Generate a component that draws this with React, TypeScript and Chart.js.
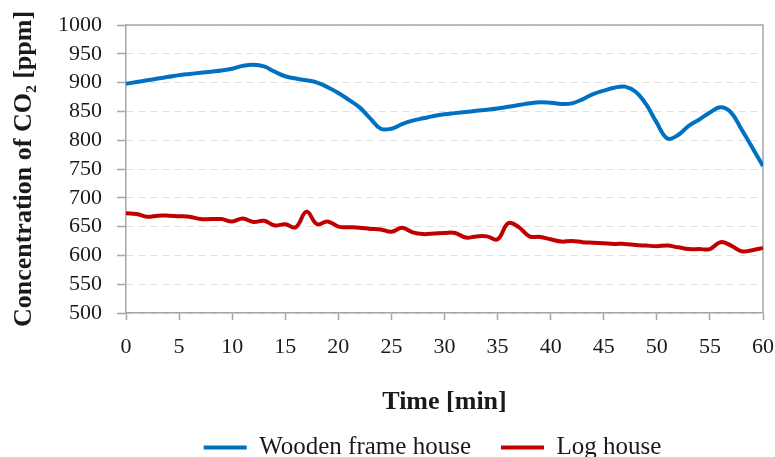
import React, { useEffect, useRef } from "react";
import { Chart, registerables } from "chart.js";

Chart.register(...registerables);

// Time axis, one reading per minute
const minutes = [
  0, 1, 2, 3, 4, 5, 6, 7, 8, 9, 10, 11, 12, 13, 14, 15, 16, 17, 18, 19, 20,
  21, 22, 23, 24, 25, 26, 27, 28, 29, 30, 31, 32, 33, 34, 35, 36, 37, 38, 39, 40,
  41, 42, 43, 44, 45, 46, 47, 48, 49, 50, 51, 52, 53, 54, 55, 56, 57, 58, 59, 60,
];

// CO2 concentration [ppm]
const woodenFrameHouse = [
  898, 901, 904, 907, 910, 913, 915, 917, 919, 921, 924, 929, 931, 928, 919, 911,
  907, 904, 900, 892, 882, 870, 857, 838, 820, 820, 828, 834, 838, 842, 845, 847,
  849, 851, 853, 855, 858, 861, 864, 866, 865, 863, 864, 871, 880, 886, 891, 893,
  884, 862, 830, 803, 809, 825, 836, 848, 857, 848, 818, 787, 755,
];

const logHouse = [
  673, 672, 667, 669, 669, 668, 667, 663, 663, 663, 659, 664, 658, 660, 652, 654,
  649, 676, 654, 659, 650, 649, 648, 646, 645, 641, 648, 640, 637, 638, 639, 639,
  631, 633, 633, 628, 656, 649, 633, 632, 628, 624, 625, 623, 622, 621, 620, 620,
  618, 617, 616, 617, 614, 611, 611, 611, 623, 617, 607, 609, 613,
];

const seriesNames = ["Wooden frame house", "Log house"];
const yTitle = "Concentration of CO\u2082 [ppm]";
const xTitle = "Time [min]";

const FONT = "'Liberation Serif', 'Times New Roman', serif";
const AXIS_GRAY = "#a6a6a6";
const TEXT = "#1a1a1a";

// Solid frame on the top and right edges of the plot area
const frameEdges = {
  id: "frameEdges",
  beforeDatasetsDraw(chart: any) {
    const { ctx, chartArea } = chart;
    ctx.save();
    ctx.strokeStyle = AXIS_GRAY;
    ctx.lineWidth = 1.5;
    ctx.setLineDash([]);
    ctx.beginPath();
    ctx.moveTo(chartArea.left, chartArea.top);
    ctx.lineTo(chartArea.right, chartArea.top);
    ctx.lineTo(chartArea.right, chartArea.bottom);
    ctx.stroke();
    ctx.restore();
  },
};

// Nudge the legend row a little to the left of the plot centre
const legendShift = {
  id: "legendShift",
  afterLayout(chart: any) {
    const legend = chart.legend;
    if (!legend) return;
    legend.left -= 12;
    legend.right -= 12;
  },
};

export default function App() {
  const canvasRef = useRef<HTMLCanvasElement | null>(null);

  useEffect(() => {
    if (!canvasRef.current) return;
    const chart = new Chart(canvasRef.current, {
      type: "line",
      data: {
        datasets: [
          {
            label: seriesNames[0],
            data: minutes.map((m, i) => ({ x: m, y: woodenFrameHouse[i] })),
            borderColor: "#0070c0",
            backgroundColor: "#0070c0",
            borderWidth: 4,
            pointRadius: 0,
            tension: 0.4,
          },
          {
            label: seriesNames[1],
            data: minutes.map((m, i) => ({ x: m, y: logHouse[i] })),
            borderColor: "#c00000",
            backgroundColor: "#c00000",
            borderWidth: 4,
            pointRadius: 0,
            tension: 0.4,
          },
        ],
      },
      options: {
        animation: false,
        responsive: true,
        maintainAspectRatio: false,
        layout: { padding: { left: 0, top: 25, right: 12, bottom: 0 } },
        plugins: {
          tooltip: { enabled: false },
          legend: {
            position: "bottom",
            fullSize: false,
            labels: {
              usePointStyle: true,
              pointStyle: "line",
              pointStyleWidth: 43,
              padding: 30,
              color: TEXT,
              font: { family: FONT, size: 25 },
            },
          },
        },
        scales: {
          x: {
            type: "linear",
            min: 0,
            max: 60,
            ticks: {
              stepSize: 5,
              autoSkip: false,
              color: TEXT,
              padding: 14,
              font: { family: FONT, size: 22 },
              callback: (v: any) => String(v),
            },
            grid: {
              drawOnChartArea: false,
              drawTicks: true,
              tickLength: 7,
              tickColor: AXIS_GRAY,
              tickWidth: 1.5,
            },
            border: { color: AXIS_GRAY, width: 1.5 },
            title: {
              display: true,
              text: xTitle,
              color: TEXT,
              font: { family: FONT, size: 26, weight: "bold" },
              padding: { top: 0, bottom: -13 },
            },
            afterFit(scale: any) {
              scale.height = 92;
              scale.paddingLeft = 0;
              scale.paddingRight = 0;
            },
          },
          y: {
            min: 500,
            max: 1000,
            ticks: {
              stepSize: 50,
              autoSkip: false,
              color: TEXT,
              padding: 15,
              font: { family: FONT, size: 22 },
              callback: (v: any) => String(v),
            },
            grid: {
              color: "#e0e0e0",
              lineWidth: 1,
              tickLength: 9,
              tickColor: AXIS_GRAY,
              tickWidth: 1.5,
              tickBorderDash: [],
            },
            border: { color: AXIS_GRAY, width: 1.5, dash: [7, 5] },
            title: {
              display: true,
              text: yTitle,
              color: TEXT,
              font: { family: FONT, size: 26, weight: "bold" },
              padding: { top: 9, bottom: 0 },
            },
            afterFit(scale: any) {
              scale.width = 126;
              scale.paddingTop = 0;
              scale.paddingBottom = 0;
            },
          },
        },
      },
      plugins: [frameEdges, legendShift],
    });
    return () => chart.destroy();
  }, []);

  return (
    <div
      style={{
        position: "fixed",
        left: 0,
        top: 0,
        width: 775,
        height: 470,
        background: "#ffffff",
      }}
    >
      <canvas ref={canvasRef} />
    </div>
  );
}
